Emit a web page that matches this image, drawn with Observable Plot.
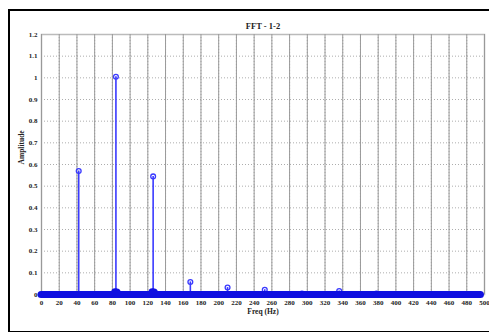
<!DOCTYPE html>
<html>
<head>
<meta charset="utf-8">
<script src="https://cdn.jsdelivr.net/npm/d3@7"></script>
<script src="https://cdn.jsdelivr.net/npm/@observablehq/plot@0.6"></script>
<style>
  html, body { margin: 0; padding: 0; background: #fff; }
  #wrap { position: relative; width: 489px; height: 332px; overflow: hidden; }
  #frame { position: absolute; left: 8px; top: 9px; width: 500px; height: 320px;
           border-left: 2px solid #000; border-top: 2px solid #000; border-bottom: 2px solid #000; pointer-events: none; }
  svg { font-family: "Liberation Serif", "Times New Roman", serif; }
</style>
</head>
<body>
<div id="wrap"><div id="frame"></div></div>
<script>
const title = "FFT - 1-2";
const xLabel = "Freq (Hz)";
const yLabel = "Amplitude";
const freqs = [42, 84, 126, 168, 210, 252, 294, 336, 378];
const amps = [0.57, 1.005, 0.545, 0.058, 0.032, 0.022, 0.004, 0.016, 0.004];
const bumpFreqs = [83, 85, 125, 127];
const bumpAmps = [0.012, 0.01, 0.012, 0.01];
const xTicks = d3.range(0, 501, 20);
const yTicks = [0, 0.1, 0.2, 0.3, 0.4, 0.5, 0.6, 0.7, 0.8, 0.9, 1, 1.1, 1.2];

const peaks = freqs.map((f, i) => ({f, a: amps[i]}));
const bumps = bumpFreqs.map((f, i) => ({f, a: bumpAmps[i]}));
const blue = "#3a3aff";

const chart = Plot.plot({
  width: 489,
  height: 332,
  marginLeft: 41,
  marginRight: 5,
  marginTop: 34,
  marginBottom: 38,
  style: {fontFamily: "Liberation Serif, serif", fontSize: "7px", fontWeight: "bold", background: "transparent"},
  x: {domain: [0, 500], ticks: xTicks, label: null},
  y: {domain: [0, 1.2], ticks: yTicks, label: null, tickFormat: d => String(+d.toFixed(1))},
  marks: [
    Plot.gridX(xTicks, {stroke: "#777", strokeOpacity: 0.6, strokeDasharray: "1,2"}),
    Plot.gridY(yTicks, {stroke: "#777", strokeOpacity: 0.6, strokeDasharray: "1,2"}),
    Plot.frame({stroke: "#bbb", strokeWidth: 1.5}),
    Plot.tickX(xTicks, {x: d => d, y1: 1.2, y2: 1.185, stroke: "#999"}),
    Plot.axisX({ticks: xTicks, tickSize: 0, tickPadding: 6, fontSize: 7, fontWeight: "bold", fill: "#222"}),
    Plot.axisY({ticks: yTicks, tickSize: 0, tickPadding: 4, fontSize: 7, fontWeight: "bold", fill: "#222",
                tickFormat: d => String(+d.toFixed(1))}),
    Plot.ruleX(peaks, {x: "f", y1: 0, y2: "a", stroke: blue, strokeWidth: 1.6}),
    Plot.dot(peaks, {x: "f", y: "a", r: 2.4, stroke: blue, strokeWidth: 1.3, fill: "none"}),
    Plot.dot(bumps, {x: "f", y: "a", r: 3, stroke: "#1010e0", fill: "#1010e0"}),
    Plot.ruleY([0], {x1: 0, x2: 496, stroke: "#1010e0", strokeWidth: 7, strokeLinecap: "round"}),
    Plot.text([title], {frameAnchor: "top", dy: -12, text: d => d, fontSize: 8.5, fontWeight: "bold", fill: "#222"}),
    Plot.text([xLabel], {frameAnchor: "bottom", dy: 14, lineAnchor: "top", text: d => d, fontSize: 7.5, fontWeight: "bold", fill: "#222"}),
    Plot.text([yLabel], {frameAnchor: "left", dx: -20, rotate: -90, text: d => d, fontSize: 7.5, fontWeight: "bold", fill: "#222"})
  ]
});
chart.style.position = "absolute";
chart.style.left = "0";
chart.style.top = "0";
document.getElementById("wrap").appendChild(chart);
</script>
</body>
</html>
